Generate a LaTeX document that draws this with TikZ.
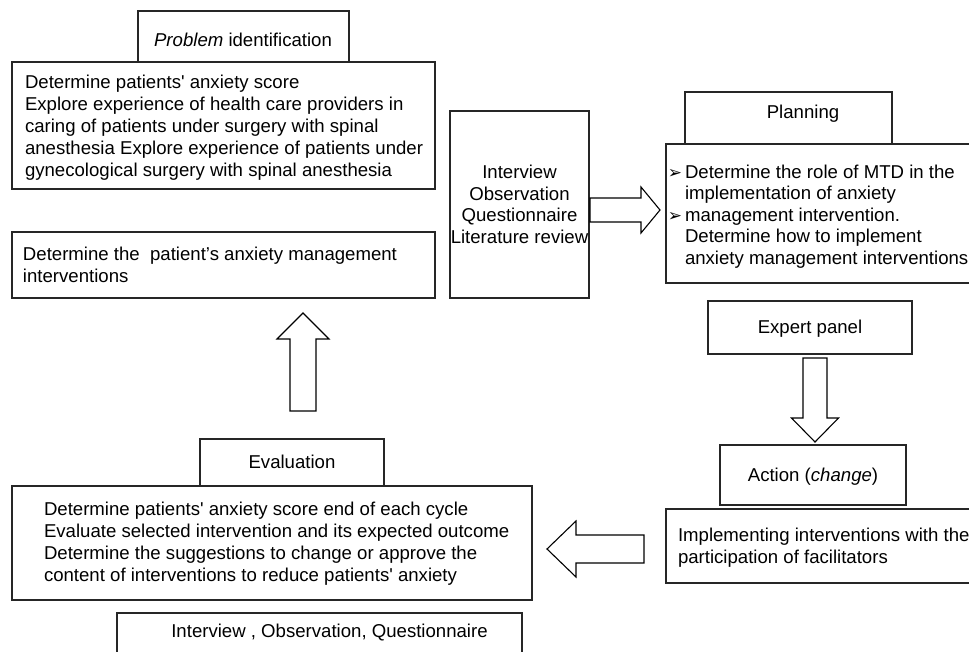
\documentclass[tikz,border=0pt]{standalone}
\usepackage{fontspec}
\setmainfont{Liberation Sans}
\newfontfamily\dejavu{DejaVu Sans}
\newcommand{\bul}{{\dejavu\fontsize{17}{17}\selectfont ➢}}
\newcommand{\sq}{\textquotesingle}
\begin{document}
\begin{tikzpicture}[x=1pt,y=-1pt,
  box/.style={draw=black!85, line width=1.2pt, fill=white, inner sep=0pt, outer sep=0pt, anchor=north west},
  txt/.style={font=\fontsize{18.6}{22}\selectfont, inner sep=0pt, outer sep=0pt, align=left, anchor=base west},
  ctxt/.style={font=\fontsize{18.6}{21.7}\selectfont, inner sep=0pt, outer sep=0pt, align=center, anchor=base},
  blk/.style={draw=black, line width=1.1pt, fill=white, line join=miter}]
\useasboundingbox (0,0) rectangle (969,652);
\clip (0,0) rectangle (969,652);
\fill[white] (0,0) rectangle (969,652);

% Problem identification
\node[box, minimum width=211pt, minimum height=51pt] (pt) at (138,11) {};
\node[box, minimum width=423pt, minimum height=127pt] (p1) at (12,62) {};
\node[ctxt] (ptt) at (243,46.5) {\textit{Problem} identification};
\node[txt] (p1t) at (25,176.5) {Determine patients\sq\ anxiety score\\Explore experience of health care providers in\\caring of patients under surgery with spinal\\anesthesia Explore experience of patients under\\gynecological surgery with spinal anesthesia};

\node[box, minimum width=423pt, minimum height=66pt] (p2) at (12,232) {};
\node[txt] (p2t) at (23,282.5) {Determine the\ \ patient’s anxiety management\\interventions};

% Middle
\node[box, minimum width=139pt, minimum height=187pt] (mid) at (450,111) {};
\node[ctxt] (midt) at (519.5,243.6) {Interview\\Observation\\Questionnaire\\Literature review};

% Planning
\node[box, minimum width=207pt, minimum height=52pt] (plt) at (685,92) {};
\node[box, minimum width=320pt, minimum height=139pt] (pl) at (666,144) {};
\node[ctxt] (pltt) at (803,118.5) {Planning};
\node[txt, font=\fontsize{18.6}{21.5}\selectfont] (plt2) at (685,264.5) {\llap{\bul\hspace{3pt}}Determine the role of MTD in the\\implementation of anxiety\\\llap{\bul\hspace{3pt}}management intervention.\\Determine how to implement\\anxiety management interventions};

% Expert panel
\node[box, minimum width=204pt, minimum height=53pt] (exp) at (708,301) {};
\node[ctxt] (expt) at (810,334) {Expert panel};

% Action
\node[box, minimum width=186pt, minimum height=60pt] (act) at (720,445) {};
\node[ctxt] (actt) at (813,481.5) {Action (\textit{change})};

% Implementing
\node[box, minimum width=320pt, minimum height=74pt] (imp) at (666,509) {};
\node[txt] (impt) at (678,563.5) {Implementing interventions with the\\participation of facilitators};

% Evaluation
\node[box, minimum width=184pt, minimum height=47pt] (evt) at (200,439) {};
\node[box, minimum width=520pt, minimum height=114pt] (ev) at (12,486) {};
\node[ctxt] (evtt) at (292,468.5) {Evaluation};
\node[txt] (evtx) at (44,581.5) {Determine patients\sq\ anxiety score end of each cycle\\Evaluate selected intervention and its expected outcome\\Determine the suggestions to change or approve the\\content of interventions to reduce patients\sq\ anxiety};

% Bottom
\node[box, minimum width=405pt, minimum height=60pt] (iq) at (117,613) {};
\node[ctxt] (iqt) at (329.5,637) {Interview , Observation, Questionnaire};

% Block arrows
\draw[blk] (590,198) -- (641,198) -- (641,187) -- (660,210) -- (641,233) -- (641,222) -- (590,222) -- cycle;
\draw[blk] (803,358) -- (827,358) -- (827,418) -- (838.5,418) -- (815,442) -- (791.5,418) -- (803,418) -- cycle;
\draw[blk] (644,535) -- (576,535) -- (576,521) -- (547,549) -- (576,577) -- (576,563) -- (644,563) -- cycle;
\draw[blk] (290,411) -- (290,339) -- (277,339) -- (303,313) -- (329,339) -- (316,339) -- (316,411) -- cycle;
\end{tikzpicture}
\end{document}
